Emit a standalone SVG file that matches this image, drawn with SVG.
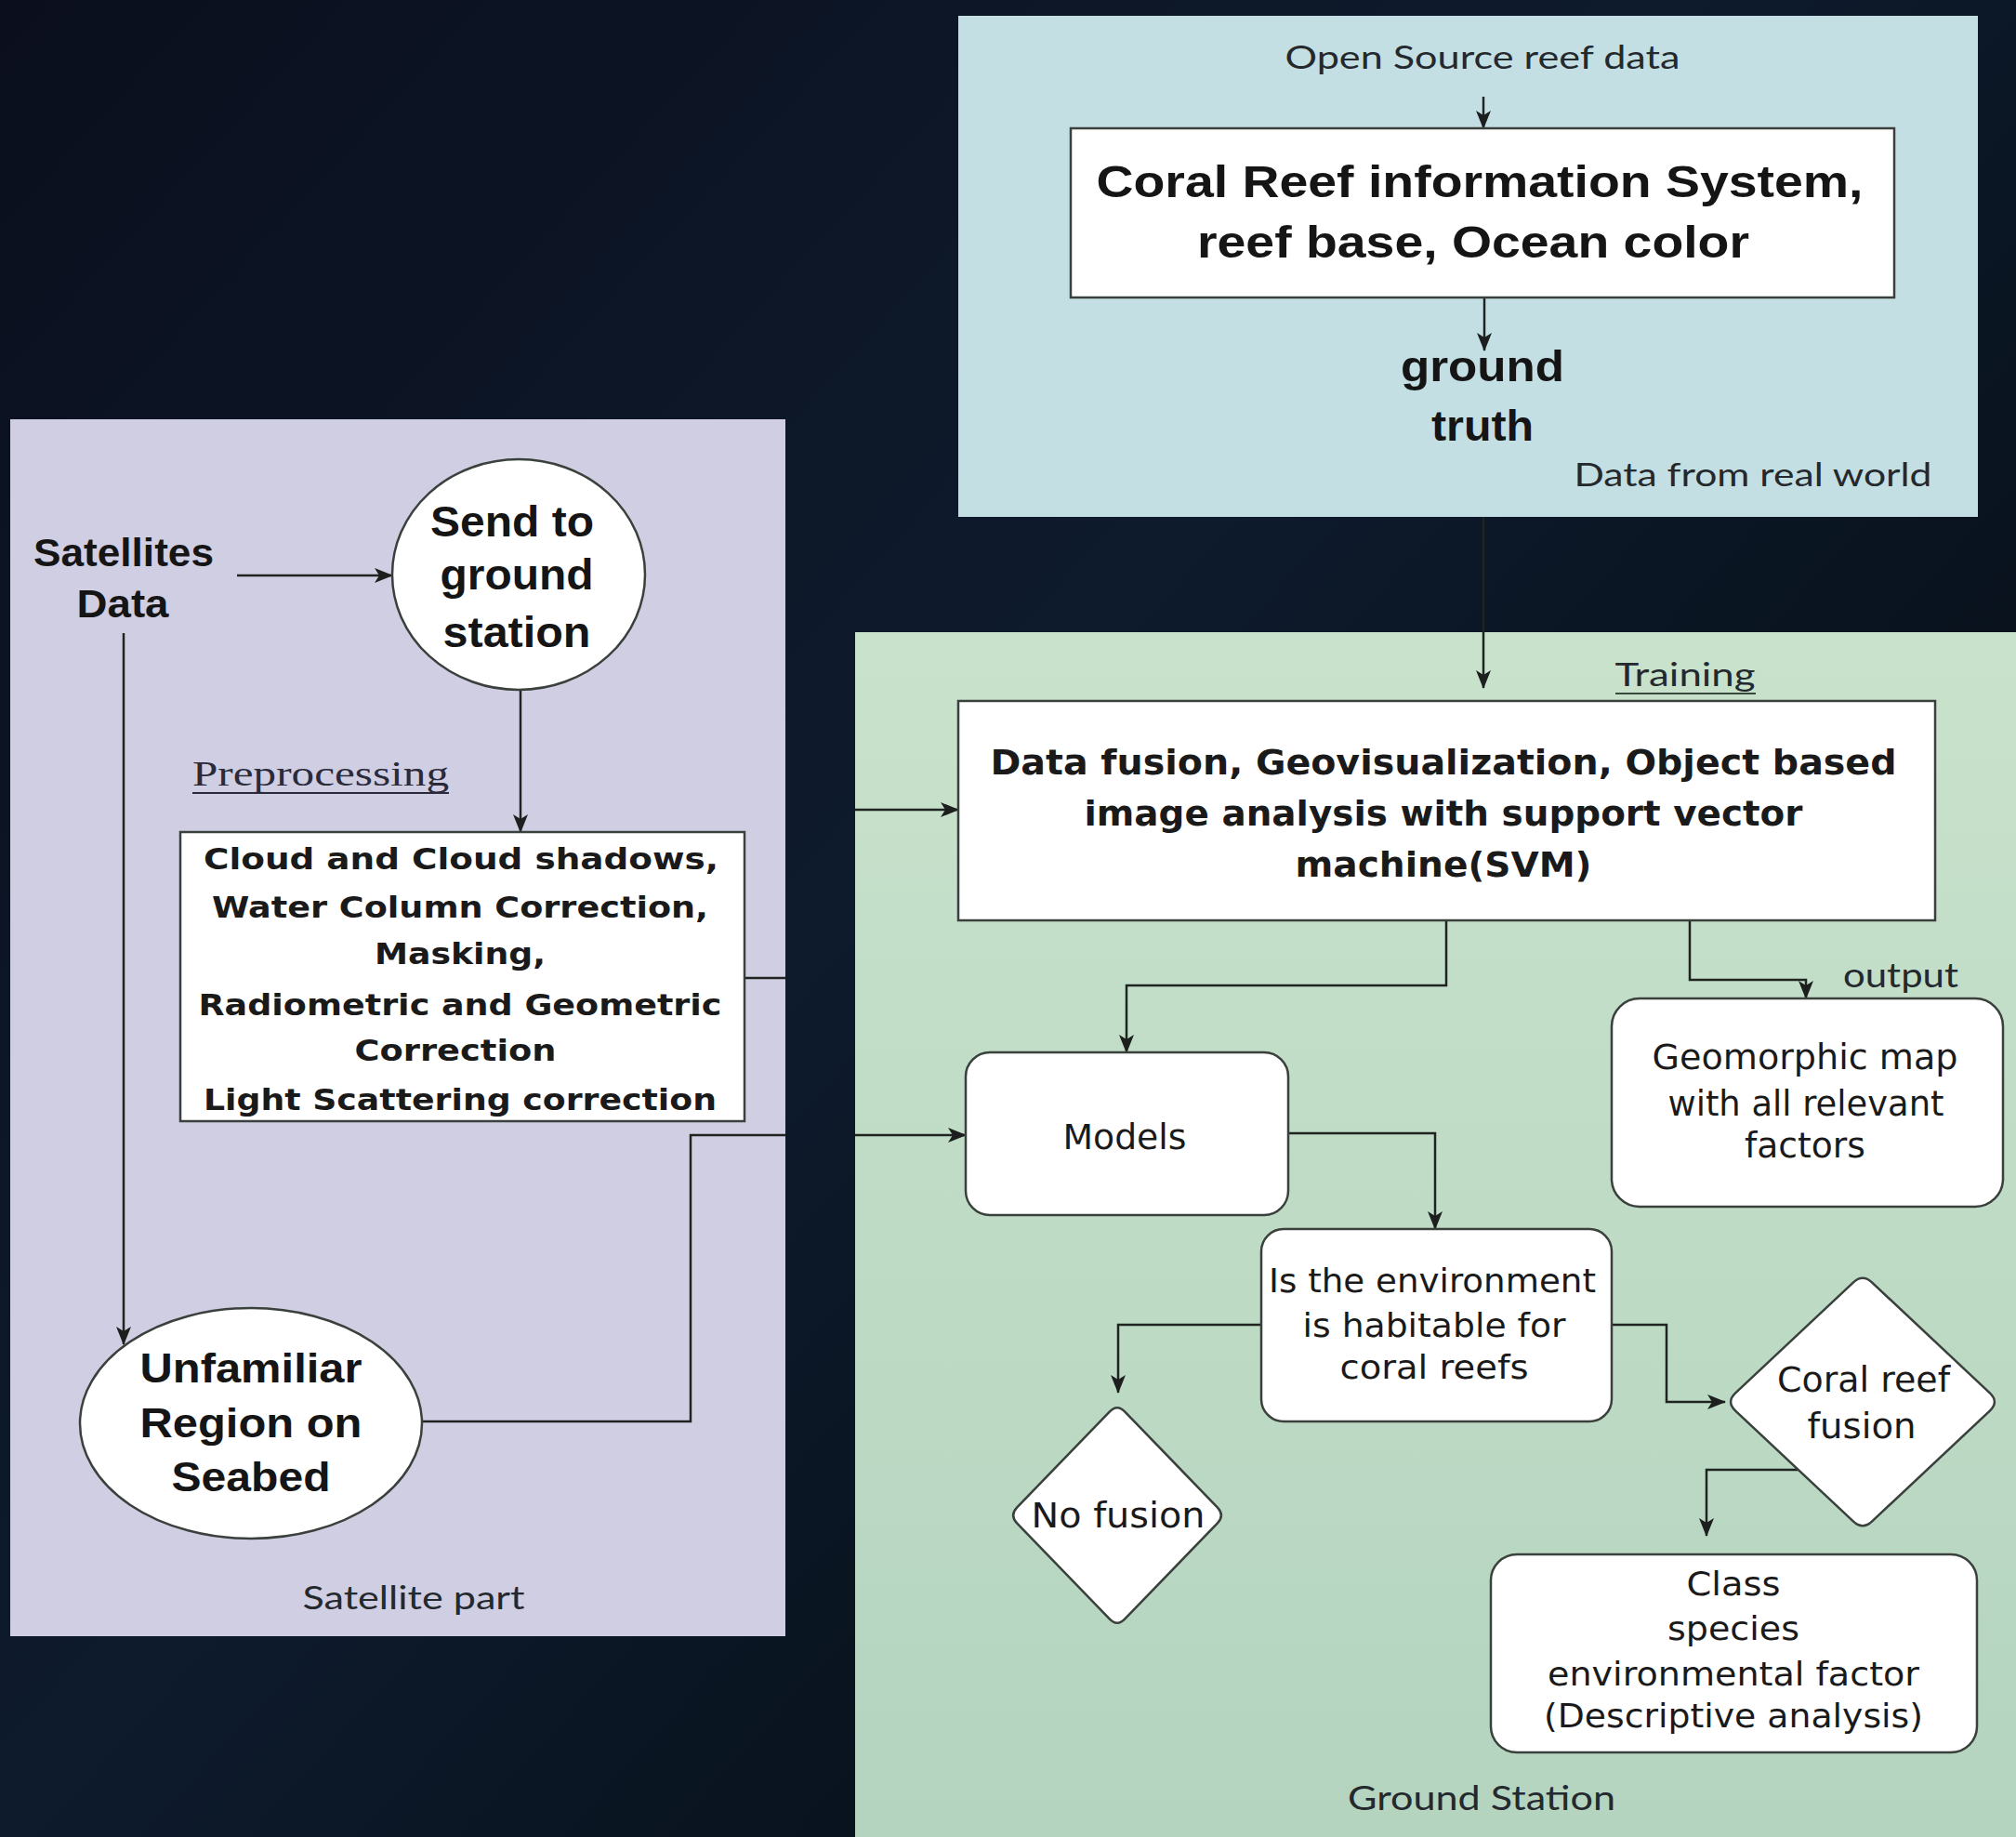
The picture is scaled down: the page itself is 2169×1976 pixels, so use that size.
<svg xmlns="http://www.w3.org/2000/svg" width="2169" height="1976" viewBox="0 0 2169 1976">
<defs>
<linearGradient id="bg" gradientUnits="userSpaceOnUse" x1="0" y1="0" x2="2169" y2="1976">
<stop offset="0" stop-color="#0b0f1d"/>
<stop offset="0.45" stop-color="#0e1b2d"/>
<stop offset="0.62" stop-color="#0a1522"/>
<stop offset="1" stop-color="#06080c"/>
</linearGradient>
<linearGradient id="green" x1="0" y1="0" x2="0" y2="1">
<stop offset="0" stop-color="#c9e2cc"/>
<stop offset="1" stop-color="#b4d4bf"/>
</linearGradient>
<marker id="arr" markerWidth="20" markerHeight="16" refX="19" refY="8" orient="auto" markerUnits="userSpaceOnUse">
<path d="M0,0 L20,8 L0,16 L5,8 Z" fill="#1c1f1d"/>
</marker>
<style>
.box{fill:#ffffff;stroke:#3a403c;stroke-width:2.5}
.cn{fill:none;stroke:#1f2421;stroke-width:2.5}
.arial{font-family:"Liberation Sans",Arial,sans-serif;font-weight:bold;fill:#151515;text-anchor:middle}
.verd{font-family:"DejaVu Sans",Verdana,sans-serif;fill:#1a1a1a;text-anchor:middle}
.verdb{font-family:"DejaVu Sans",Verdana,sans-serif;font-weight:bold;fill:#1a1a1a;text-anchor:middle}
.cal{font-family:Lato,"Open Sans",sans-serif;fill:#24292e;text-anchor:middle}
.serif{font-family:"Liberation Serif","Times New Roman",serif;fill:#2a2a3a;text-anchor:middle}
</style>
</defs>
<rect x="0" y="0" width="2169" height="1976" fill="url(#bg)"/>

<g id="panel-data-real-world">
<rect x="1031" y="17" width="1097" height="539" fill="#c4dfe3"/>
<text class="cal" x="1595" y="74" font-size="35" textLength="425" lengthAdjust="spacingAndGlyphs">Open Source reef data</text>
<text class="cal" x="1886" y="523" font-size="35" textLength="385" lengthAdjust="spacingAndGlyphs">Data from real world</text>
</g>

<g id="panel-satellite">
<rect x="11" y="451" width="834" height="1309" fill="#d0cee3"/>
<text class="cal" x="445" y="1731" font-size="35" textLength="239" lengthAdjust="spacingAndGlyphs">Satellite part</text>
</g>

<g id="panel-ground-station">
<rect x="920" y="680" width="1260" height="1300" fill="url(#green)"/>
<text class="cal" x="1813" y="738" font-size="35" textLength="151" lengthAdjust="spacingAndGlyphs">Training</text>
<line x1="1738" y1="746" x2="1889" y2="746" stroke="#3a4a3e" stroke-width="2"/>
<text class="cal" x="2045" y="1062" font-size="37" textLength="124" lengthAdjust="spacingAndGlyphs">output</text>
<text class="cal" x="1594" y="1947" font-size="37" textLength="288" lengthAdjust="spacingAndGlyphs">Ground Station</text>
</g>

<g id="connectors">
<line class="cn" x1="1596" y1="104" x2="1596" y2="138" marker-end="url(#arr)"/>
<line class="cn" x1="1597" y1="320" x2="1597" y2="377" marker-end="url(#arr)"/>
<line class="cn" x1="1596" y1="556" x2="1596" y2="740" marker-end="url(#arr)"/>
<line class="cn" x1="255" y1="619" x2="422" y2="619" marker-end="url(#arr)"/>
<line class="cn" x1="560" y1="742" x2="560" y2="895" marker-end="url(#arr)"/>
<line class="cn" x1="133" y1="681" x2="133" y2="1446" marker-end="url(#arr)"/>
<path class="cn" d="M801,1052 H882 V871 H1031" marker-end="url(#arr)"/>
<path class="cn" d="M454,1529 H743 V1221 H1039" marker-end="url(#arr)"/>
<path class="cn" d="M1556,990 V1060 H1212 V1132" marker-end="url(#arr)"/>
<path class="cn" d="M1818,990 V1054 H1943 V1074" marker-end="url(#arr)"/>
<path class="cn" d="M1386,1219 H1544 V1322" marker-end="url(#arr)"/>
<path class="cn" d="M1357,1425 H1203 V1498" marker-end="url(#arr)"/>
<path class="cn" d="M1734,1425 H1793 V1508 H1856" marker-end="url(#arr)"/>
<path class="cn" d="M1935,1581 H1836 V1652" marker-end="url(#arr)"/>
</g>

<rect id="panel-gap" x="845" y="670" width="75" height="1100" fill="url(#bg)"/>

<g id="node-coral-reef-info">
<rect class="box" x="1152" y="138" width="886" height="182" stroke="#555"/>
<text class="arial" x="1592" y="212" font-size="48" textLength="825" lengthAdjust="spacingAndGlyphs">Coral Reef information System,</text>
<text class="arial" x="1585" y="277" font-size="48" textLength="594" lengthAdjust="spacingAndGlyphs">reef base, Ocean color</text>
</g>

<g id="node-ground-truth">
<text class="arial" x="1595" y="410" font-size="47" textLength="176" lengthAdjust="spacingAndGlyphs">ground</text>
<text class="arial" x="1595" y="474" font-size="47" textLength="110" lengthAdjust="spacingAndGlyphs">truth</text>
</g>

<g id="node-satellites-data">
<text class="arial" x="133" y="609" font-size="42" textLength="194" lengthAdjust="spacingAndGlyphs">Satellites</text>
<text class="arial" x="132" y="664" font-size="42" textLength="99" lengthAdjust="spacingAndGlyphs">Data</text>
</g>

<g id="node-send-ground-station">
<ellipse class="box" cx="558" cy="618" rx="136" ry="124"/>
<text class="arial" x="551" y="577" font-size="46" textLength="176" lengthAdjust="spacingAndGlyphs">Send to</text>
<text class="arial" x="556" y="634" font-size="46" textLength="165" lengthAdjust="spacingAndGlyphs">ground</text>
<text class="arial" x="556" y="696" font-size="46" textLength="159" lengthAdjust="spacingAndGlyphs">station</text>
</g>

<g id="node-preprocessing">
<text class="serif" x="345" y="845" font-size="38" textLength="276" lengthAdjust="spacingAndGlyphs">Preprocessing</text>
<line x1="207" y1="853" x2="483" y2="853" stroke="#2a2a3a" stroke-width="2"/>
<rect class="box" x="194" y="895" width="607" height="311"/>
<text class="verdb" x="496" y="935" font-size="32" textLength="554" lengthAdjust="spacingAndGlyphs">Cloud and Cloud shadows,</text>
<text class="verdb" x="495" y="987" font-size="32" textLength="534" lengthAdjust="spacingAndGlyphs">Water Column Correction,</text>
<text class="verdb" x="495" y="1037" font-size="32" textLength="184" lengthAdjust="spacingAndGlyphs">Masking,</text>
<text class="verdb" x="495" y="1092" font-size="32" textLength="563" lengthAdjust="spacingAndGlyphs">Radiometric and Geometric</text>
<text class="verdb" x="490" y="1141" font-size="32" textLength="217" lengthAdjust="spacingAndGlyphs">Correction</text>
<text class="verdb" x="495" y="1194" font-size="32" textLength="552" lengthAdjust="spacingAndGlyphs">Light Scattering correction</text>
</g>

<g id="node-unfamiliar-region">
<ellipse class="box" cx="270" cy="1531" rx="184" ry="124"/>
<text class="arial" x="270" y="1487" font-size="44" textLength="239" lengthAdjust="spacingAndGlyphs">Unfamiliar</text>
<text class="arial" x="270" y="1546" font-size="44" textLength="239" lengthAdjust="spacingAndGlyphs">Region on</text>
<text class="arial" x="270" y="1604" font-size="44" textLength="171" lengthAdjust="spacingAndGlyphs">Seabed</text>
</g>

<g id="node-data-fusion">
<rect class="box" x="1031" y="754" width="1051" height="236" stroke-width="3"/>
<text class="verdb" x="1553" y="833" font-size="38" textLength="975" lengthAdjust="spacingAndGlyphs">Data fusion, Geovisualization,  Object based</text>
<text class="verdb" x="1553" y="888" font-size="38" textLength="773" lengthAdjust="spacingAndGlyphs">image analysis with support vector</text>
<text class="verdb" x="1553" y="943" font-size="38" textLength="319" lengthAdjust="spacingAndGlyphs">machine(SVM)</text>
</g>

<g id="node-geomorphic-map">
<rect class="box" x="1734" y="1074" width="421" height="224" rx="30"/>
<text class="verd" x="1942" y="1150" font-size="37" textLength="329" lengthAdjust="spacingAndGlyphs">Geomorphic map</text>
<text class="verd" x="1943" y="1200" font-size="37" textLength="297" lengthAdjust="spacingAndGlyphs">with all relevant</text>
<text class="verd" x="1942" y="1245" font-size="37" textLength="130" lengthAdjust="spacingAndGlyphs">factors</text>
</g>

<g id="node-models">
<rect class="box" x="1039" y="1132" width="347" height="175" rx="26"/>
<text class="verd" x="1210" y="1236" font-size="37" textLength="133" lengthAdjust="spacingAndGlyphs">Models</text>
</g>

<g id="node-habitable">
<rect class="box" x="1357" y="1322" width="377" height="207" rx="24"/>
<text class="verd" x="1541" y="1390" font-size="36" textLength="352" lengthAdjust="spacingAndGlyphs">Is the environment</text>
<text class="verd" x="1543" y="1438" font-size="36" textLength="283" lengthAdjust="spacingAndGlyphs">is habitable for</text>
<text class="verd" x="1543" y="1483" font-size="36" textLength="203" lengthAdjust="spacingAndGlyphs">coral reefs</text>
</g>

<g id="node-no-fusion">
<path class="box" d="M1193.7,1518.6 Q1202,1510 1210.3,1518.6 L1309.7,1621.4 Q1318,1630 1309.7,1638.6 L1210.3,1741.4 Q1202,1750 1193.7,1741.4 L1094.3,1638.6 Q1086,1630 1094.3,1621.4 Z"/>
<text class="verd" x="1203" y="1643" font-size="37" textLength="187" lengthAdjust="spacingAndGlyphs">No fusion</text>
</g>

<g id="node-coral-reef-fusion">
<path class="box" d="M1993.8,1379.6 Q2004,1370 2014.2,1379.6 L2140.8,1498.4 Q2151,1508 2140.8,1517.6 L2014.2,1636.4 Q2004,1646 1993.8,1636.4 L1867.2,1517.6 Q1857,1508 1867.2,1498.4 Z"/>
<text class="verd" x="2005" y="1497" font-size="37" textLength="186" lengthAdjust="spacingAndGlyphs">Coral reef</text>
<text class="verd" x="2003" y="1547" font-size="37" textLength="117" lengthAdjust="spacingAndGlyphs">fusion</text>
</g>

<g id="node-class-species">
<rect class="box" x="1604" y="1672" width="523" height="213" rx="28"/>
<text class="verd" x="1865" y="1716" font-size="36" textLength="101" lengthAdjust="spacingAndGlyphs">Class</text>
<text class="verd" x="1865" y="1764" font-size="36" textLength="142" lengthAdjust="spacingAndGlyphs">species</text>
<text class="verd" x="1865" y="1813" font-size="36" textLength="400" lengthAdjust="spacingAndGlyphs">environmental factor</text>
<text class="verd" x="1865" y="1858" font-size="36" textLength="408" lengthAdjust="spacingAndGlyphs">(Descriptive analysis)</text>
</g>
</svg>
